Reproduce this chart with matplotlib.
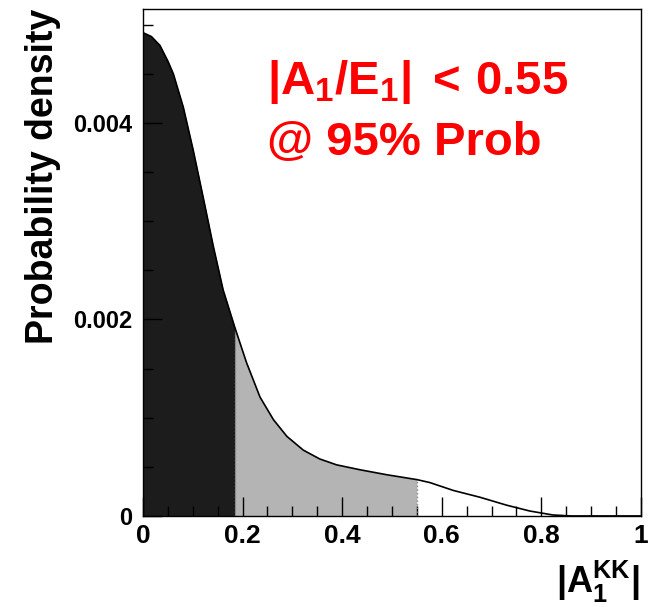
import numpy as np
import matplotlib
matplotlib.use('Agg')
import matplotlib.pyplot as plt
from matplotlib.ticker import MultipleLocator, FixedLocator, FixedFormatter

plt.rcParams['font.family'] = ['Liberation Sans', 'DejaVu Sans']
plt.rcParams['font.weight'] = 'bold'
plt.rcParams['mathtext.fontset'] = 'custom'
plt.rcParams['mathtext.rm'] = 'Liberation Sans:bold'
plt.rcParams['mathtext.it'] = 'Liberation Sans:bold'
plt.rcParams['mathtext.bf'] = 'Liberation Sans:bold'

# posterior density
a_kk = np.array([0, 0.017, 0.034, 0.05, 0.061, 0.081, 0.101, 0.121, 0.141, 0.161, 0.185,
                 0.208, 0.235, 0.262, 0.289, 0.322, 0.355, 0.389, 0.436, 0.489, 0.55,
                 0.576, 0.623, 0.677, 0.73, 0.777, 0.823, 0.86, 1.0])
density = np.array([4.92, 4.88, 4.79, 4.63, 4.50, 4.16, 3.72, 3.24, 2.75, 2.30, 1.91,
                    1.56, 1.21, 0.98, 0.81, 0.67, 0.58, 0.52, 0.47, 0.42, 0.37,
                    0.34, 0.26, 0.19, 0.11, 0.05, 0.01, 0.0, 0.0]) * 1e-3

cut68 = 0.185   # dark region edge
cut95 = 0.55    # 95% limit

xticks = [0, 0.2, 0.4, 0.6, 0.8, 1]
xtick_labels = ['0', '0.2', '0.4', '0.6', '0.8', '1']
yticks = [0, 0.002, 0.004]
ytick_labels = ['0', '0.002', '0.004']

fig = plt.figure(figsize=(6.56, 6.07), dpi=100)
ax = fig.add_axes([0.218, 0.150, 0.759, 0.835])

ax.fill_between(a_kk, density, where=a_kk <= cut68, color='#1c1c1c', lw=0)
ax.fill_between(a_kk, density, where=(a_kk >= cut68) & (a_kk <= cut95), color='#b4b4b4', lw=0)
i68 = int(np.where(a_kk == cut68)[0][0])
i95 = int(np.where(a_kk == cut95)[0][0])
ax.vlines([cut68, cut95], 0, [density[i68], density[i95]], colors='#888888',
          linestyles=':', lw=1)
ax.plot(a_kk, density, color='black', lw=1.2)

ax.set_xlim(0, 1)
ax.set_ylim(0, 0.00516)

ax.xaxis.set_major_locator(FixedLocator(xticks))
ax.xaxis.set_major_formatter(FixedFormatter(xtick_labels))
ax.xaxis.set_minor_locator(MultipleLocator(0.05))
ax.yaxis.set_major_locator(FixedLocator(yticks))
ax.yaxis.set_major_formatter(FixedFormatter(ytick_labels))
ax.yaxis.set_minor_locator(MultipleLocator(0.0005))
ax.tick_params(which='both', direction='in', top=False, right=False, width=1)
ax.tick_params(which='major', length=14)
ax.tick_params(which='minor', length=7)
ax.tick_params(axis='x', labelsize=19, pad=6)
ax.tick_params(axis='y', labelsize=17, pad=8)
for s in ax.spines.values():
    s.set_linewidth(1)

fig.text(0.065, 0.985, 'Probability density', rotation=90, ha='center', va='top',
         fontsize=27, fontweight='bold')
fig.text(0.975, 0.003, r'$\mathrm{|A_{1}^{KK}|}$', ha='right', va='bottom',
         fontsize=26)

ax.text(0.25, 0.0043, r'$\mathrm{|A_1/E_1|\;<\,0.55}$', color='red',
        fontsize=34, ha='left', va='baseline')
ax.text(0.25, 0.00367, '@ 95% Prob', color='red', fontsize=34, fontweight='bold',
        ha='left', va='baseline')

fig.savefig('out.png', dpi=100)
